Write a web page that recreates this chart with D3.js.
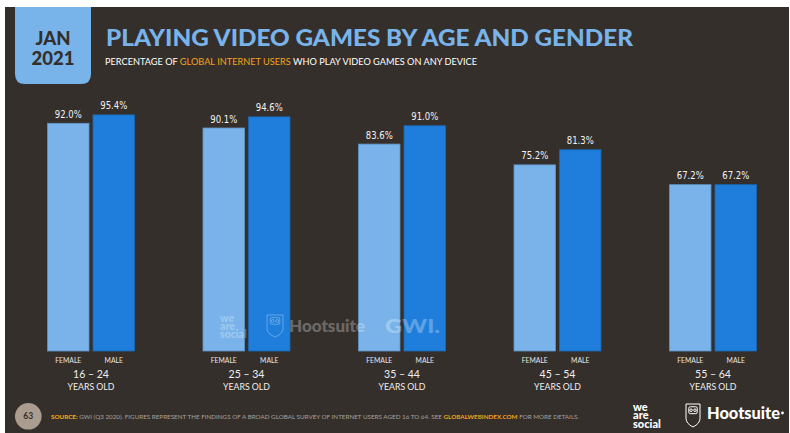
<!DOCTYPE html>
<html>
<head>
<meta charset="utf-8">
<script src="https://cdn.jsdelivr.net/npm/d3@7"></script>
<style>
html,body{margin:0;padding:0;background:#fff;}
svg{display:block;}
</style>
</head>
<body>
<svg id="c" width="790" height="433"></svg>
<script>
const ageGroups = ["16 – 24", "25 – 34", "35 – 44", "45 – 54", "55 – 64"];
const genders = ["FEMALE", "MALE"];
const femaleValues = [92.0, 90.1, 83.6, 75.2, 67.2];
const maleValues = [95.4, 94.6, 91.0, 81.3, 67.2];
const groupSuffix = "YEARS OLD";

const BG = "#352f2b";
const FEMALE_C = "#79b3ea";
const MALE_C = "#1f7edb";
const ORANGE = "#f4a21c";

const svg = d3.select("#c");
svg.append("rect").attr("x", 5).attr("y", 7).attr("width", 784).attr("height", 426).attr("fill", BG);

// date tab
const tab = d3.path();
const tx = 15, tw = 76, ty = 7, th = 77, r = 10;
tab.moveTo(tx, ty); tab.lineTo(tx + tw, ty); tab.lineTo(tx + tw, ty + th - r);
tab.quadraticCurveTo(tx + tw, ty + th, tx + tw - r, ty + th);
tab.lineTo(tx + r, ty + th); tab.quadraticCurveTo(tx, ty + th, tx, ty + th - r); tab.closePath();
svg.append("path").attr("d", tab.toString()).attr("fill", "#78b3ea");
svg.append("text").attr("x", 53).attr("y", 45).attr("text-anchor", "middle")
  .attr("font-family", "Lato").attr("font-weight", 900).attr("font-size", 18.5).attr("fill", BG).text("JAN");
svg.append("text").attr("x", 53).attr("y", 64.5).attr("text-anchor", "middle")
  .attr("font-family", "Lato").attr("font-weight", 900).attr("font-size", 18.5).attr("fill", BG).text("2021");

// title
svg.append("text").attr("x", 106).attr("y", 46).attr("font-family", "Lato").attr("font-weight", 900)
  .attr("font-size", 23).attr("fill", "#78b3ea").attr("textLength", 527).attr("lengthAdjust", "spacingAndGlyphs")
  .text("PLAYING VIDEO GAMES BY AGE AND GENDER");
const sub = svg.append("text").attr("x", 105).attr("y", 64.5).attr("font-family", "Lato")
  .attr("font-size", 8.6).attr("fill", "#ffffff").attr("textLength", 372).attr("lengthAdjust", "spacingAndGlyphs");
sub.append("tspan").text("PERCENTAGE OF ");
sub.append("tspan").attr("fill", ORANGE).text("GLOBAL INTERNET USERS");
sub.append("tspan").text(" WHO PLAY VIDEO GAMES ON ANY DEVICE");

// scales
const y = d3.scaleLinear().domain([0, 100]).range([351, 103.5]);
const x0 = d3.scalePoint().domain(ageGroups).range([91, 713]);
const x1 = d3.scaleBand().domain(genders).range([-43.5, 43.5]).paddingInner(0.088);

const data = ageGroups.map((g, i) => ({ group: g, values: [
  { gender: "FEMALE", value: femaleValues[i] },
  { gender: "MALE", value: maleValues[i] }
]}));

const groups = svg.selectAll("g.grp").data(data).join("g").attr("class", "grp")
  .attr("transform", d => `translate(${x0(d.group)},0)`);

groups.selectAll("rect").data(d => d.values).join("rect")
  .attr("x", d => x1(d.gender)).attr("width", x1.bandwidth())
  .attr("y", d => y(d.value)).attr("height", d => y(0) - y(d.value))
  .attr("fill", d => d.gender === "FEMALE" ? FEMALE_C : MALE_C)
  .attr("stroke", d => d.gender === "FEMALE" ? "#5f93c8" : "#1a68b5").attr("stroke-width", 0.8);

groups.selectAll("text.val").data(d => d.values).join("text").attr("class", "val")
  .attr("x", d => x1(d.gender) + x1.bandwidth() / 2).attr("y", d => y(d.value) - 5.5)
  .attr("text-anchor", "middle").attr("font-family", "DejaVu Sans").attr("font-stretch", "condensed")
  .attr("font-size", 11).attr("fill", "#f2f2f2")
  .attr("textLength", 27).attr("lengthAdjust", "spacingAndGlyphs")
  .text(d => d.value.toFixed(1) + "%");

groups.selectAll("text.gen").data(d => d.values).join("text").attr("class", "gen")
  .attr("x", d => x1(d.gender) + x1.bandwidth() / 2).attr("y", 363.3)
  .attr("text-anchor", "middle").attr("font-family", "Lato").attr("font-size", 6.8).attr("fill", "#e6e6e6")
  .text(d => d.gender);

groups.append("text").attr("x", 0).attr("y", 378.3).attr("text-anchor", "middle")
  .attr("font-family", "Lato").attr("font-size", 10.5).attr("fill", "#eeeeee").text(d => d.group);
groups.append("text").attr("x", 0).attr("y", 389.5).attr("text-anchor", "middle")
  .attr("font-family", "Lato").attr("font-size", 10.2).attr("fill", "#eeeeee")
  .attr("textLength", 47).attr("lengthAdjust", "spacingAndGlyphs").text(groupSuffix);

// owl icon helper
function owl(g, x, yy, w, h, color, op) {
  const p = d3.path();
  p.moveTo(x, yy); p.lineTo(x + w, yy); p.lineTo(x + w, yy + h * 0.62);
  p.quadraticCurveTo(x + w, yy + h * 0.85, x + w / 2, yy + h);
  p.quadraticCurveTo(x, yy + h * 0.85, x, yy + h * 0.62); p.closePath();
  g.append("path").attr("d", p.toString()).attr("fill", "none").attr("stroke", color).attr("stroke-width", 1).attr("opacity", op);
  const bx = x + w * 0.2, by = yy + h * 0.12, bw = w * 0.6, bh = h * 0.3;
  g.append("rect").attr("x", bx).attr("y", by).attr("width", bw).attr("height", bh).attr("rx", 1.5)
    .attr("fill", "none").attr("stroke", color).attr("stroke-width", 1).attr("opacity", op);
  [0.36, 0.64].forEach(f => g.append("circle").attr("cx", x + w * f).attr("cy", by + bh / 2).attr("r", w * 0.09)
    .attr("fill", "none").attr("stroke", color).attr("stroke-width", 1).attr("opacity", op));
}
function weare(g, x, yy, fs, color, op) {
  const t = g.append("text").attr("x", x).attr("y", yy)
    .attr("font-family", "Lato").attr("font-weight", 900).attr("font-size", fs).attr("fill", color)
    .attr("opacity", op);
  ["we", "are", "social"].forEach((s, i) => t.append("tspan").attr("x", x)
    .attr("dy", i === 0 ? 0 : fs * 0.78).text(s));
}

// watermark
const wm = svg.append("g");
weare(wm, 220, 321.5, 10.5, "#ffffff", 0.28);
owl(wm, 267, 315, 16, 22, "#ffffff", 0.3);
wm.append("text").attr("x", 289).attr("y", 332).attr("font-family", "Lato").attr("font-weight", 900)
  .attr("font-size", 17).attr("fill", "#ffffff").attr("opacity", 0.28).attr("textLength", 76).attr("lengthAdjust", "spacingAndGlyphs").text("Hootsuite");
wm.append("text").attr("x", 385).attr("y", 333).attr("font-family", "Lato").attr("font-weight", 900)
  .attr("font-size", 18.5).attr("fill", "#ffffff").attr("opacity", 0.28).attr("textLength", 55).attr("lengthAdjust", "spacingAndGlyphs").text("GWI.");

// footer
svg.append("circle").attr("cx", 28.3).attr("cy", 416.3).attr("r", 13.3).attr("fill", "#aa9c8f");
svg.append("text").attr("x", 28.3).attr("y", 419.3).attr("text-anchor", "middle").attr("font-family", "Lato")
  .attr("font-weight", 700).attr("font-size", 8.5).attr("fill", BG).text("63");
const src = svg.append("text").attr("x", 51).attr("y", 419).attr("font-family", "Lato").attr("font-size", 6.4)
  .attr("fill", "#a8a29c").attr("textLength", 528).attr("lengthAdjust", "spacingAndGlyphs");
src.append("tspan").attr("fill", ORANGE).attr("font-weight", 900).text("SOURCE:");
src.append("tspan").text(" GWI (Q3 2020). FIGURES REPRESENT THE FINDINGS OF A BROAD GLOBAL SURVEY OF INTERNET USERS AGED 16 TO 64. SEE ");
src.append("tspan").attr("fill", ORANGE).attr("font-weight", 700).text("GLOBALWEBINDEX.COM");
src.append("tspan").text(" FOR MORE DETAILS.");

const lg = svg.append("g");
weare(lg, 633, 410.5, 11, "#ffffff", 1);
owl(lg, 686, 404, 14, 23, "#ffffff", 1);
lg.append("text").attr("x", 707).attr("y", 418.5).attr("font-family", "Lato").attr("font-weight", 900)
  .attr("font-size", 16.5).attr("fill", "#ffffff").attr("textLength", 73).attr("lengthAdjust", "spacingAndGlyphs").text("Hootsuite");
lg.append("circle").attr("cx", 782.5).attr("cy", 413).attr("r", 1.4).attr("fill", "#ffffff");
</script>
</body>
</html>
